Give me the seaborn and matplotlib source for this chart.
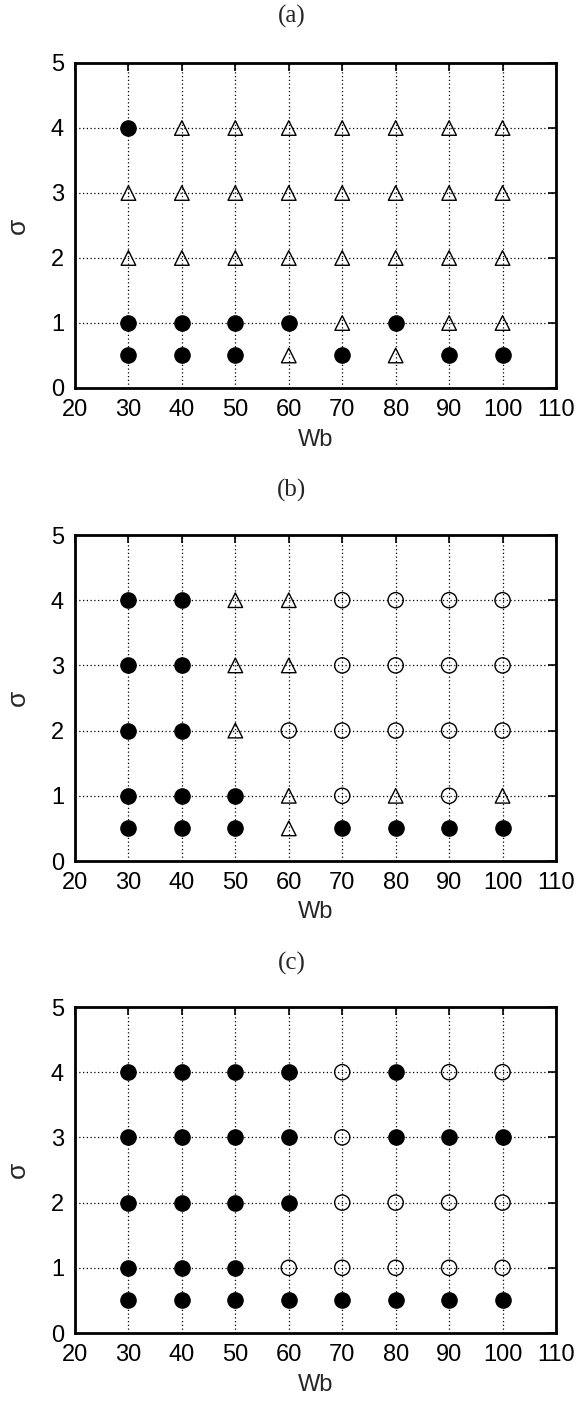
import matplotlib
matplotlib.use("Agg")
import matplotlib.pyplot as plt
import seaborn as sns
import pandas as pd

# Data: F = filled circle, T = open triangle, O = open circle
wb = [30, 40, 50, 60, 70, 80, 90, 100]
sigma_levels = [4, 3, 2, 1, 0.5]

panel_a = [
    ["F", "T", "T", "T", "T", "T", "T", "T"],
    ["T", "T", "T", "T", "T", "T", "T", "T"],
    ["T", "T", "T", "T", "T", "T", "T", "T"],
    ["F", "F", "F", "F", "T", "F", "T", "T"],
    ["F", "F", "F", "T", "F", "T", "F", "F"],
]
panel_b = [
    ["F", "F", "T", "T", "O", "O", "O", "O"],
    ["F", "F", "T", "T", "O", "O", "O", "O"],
    ["F", "F", "T", "O", "O", "O", "O", "O"],
    ["F", "F", "F", "T", "O", "T", "O", "T"],
    ["F", "F", "F", "T", "F", "F", "F", "F"],
]
panel_c = [
    ["F", "F", "F", "F", "O", "F", "O", "O"],
    ["F", "F", "F", "F", "O", "F", "F", "F"],
    ["F", "F", "F", "F", "O", "O", "O", "O"],
    ["F", "F", "F", "O", "O", "O", "O", "O"],
    ["F", "F", "F", "F", "F", "F", "F", "F"],
]
titles = ["(a)", "(b)", "(c)"]
xticks = [20, 30, 40, 50, 60, 70, 80, 90, 100, 110]
yticks = [0, 1, 2, 3, 4, 5]

sns.set_theme(style="white")
plt.rcParams['font.family'] = ['Liberation Sans', 'DejaVu Sans']

W, H = 576, 1410
fig = plt.figure(figsize=(W / 100, H / 100), dpi=100)

left_px, right_px = 75, 556
tops = [63, 535, 1007]
bottoms = [388, 861, 1333]
title_y = [16, 490, 963]
wb_y = [440, 912, 1385]

styles = {
    "F": dict(marker="o", facecolor="black", edgecolor="black", s=120, linewidth=1.0),
    "O": dict(marker="o", facecolor="none", edgecolor="black", s=120, linewidth=1.0),
    "T": dict(marker="^", facecolor="none", edgecolor="black", s=110, linewidth=1.0),
}

for i, grid in enumerate([panel_a, panel_b, panel_c]):
    rows = []
    for si, s in enumerate(sigma_levels):
        for xi, x in enumerate(wb):
            rows.append({"Wb": x, "sigma": s, "cls": grid[si][xi]})
    df = pd.DataFrame(rows)

    ax = fig.add_axes([left_px / W, 1 - bottoms[i] / H,
                       (right_px - left_px) / W, (bottoms[i] - tops[i]) / H])
    ax.set_axisbelow(True)
    ax.grid(True, color="black", linestyle=(0, (1, 2)), linewidth=0.9)
    for c in ["F", "T", "O"]:
        sub = df[df["cls"] == c]
        if len(sub):
            st = styles[c]
            sns.scatterplot(data=sub, x="Wb", y="sigma", ax=ax,
                            marker=st["marker"], s=st["s"],
                            facecolor=st["facecolor"], edgecolor=st["edgecolor"],
                            linewidth=st["linewidth"], legend=False, zorder=3)
    ax.set_xlim(20, 110)
    ax.set_ylim(0, 5)
    ax.set_xticks(xticks)
    ax.set_yticks(yticks)
    ax.tick_params(direction="in", length=6, width=1.2, top=True, right=True,
                   labelsize=17, colors="black", pad=8)
    ax.tick_params(axis="x", pad=8)
    for sp in ax.spines.values():
        sp.set_linewidth(2.0)
        sp.set_color("black")
    ax.set_xlabel("")
    ax.set_ylabel("")
    fig.text(292 / W, 1 - title_y[i] / H, titles[i], ha="center", va="center",
             fontsize=18, family=["Liberation Serif", "DejaVu Serif"])
    fig.text((left_px + right_px) / 2 / W, 1 - wb_y[i] / H, "Wb", ha="center",
             va="center", fontsize=17)
    fig.text(18 / W, 1 - (tops[i] + bottoms[i]) / 2 / H, "σ", ha="center",
             va="center", rotation=90, fontsize=19)

fig.savefig("out.png", dpi=100)
